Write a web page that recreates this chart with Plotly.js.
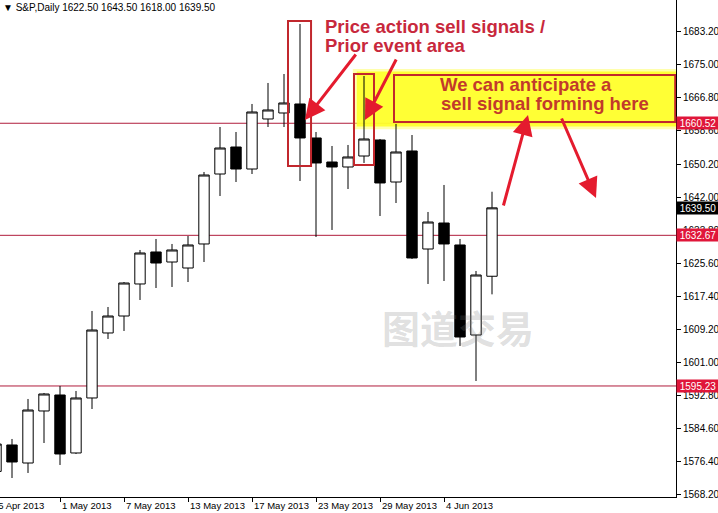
<!DOCTYPE html>
<html><head><meta charset="utf-8">
<script src="https://cdn.plot.ly/plotly-3.0.1.min.js"></script>
<style>html,body{margin:0;padding:0;background:#fff}#chart{width:718px;height:513px}</style>
</head><body><div id="chart"></div>
<script>
// ---- data ----
const dates = ['25 Apr 2013','26 Apr 2013','29 Apr 2013','30 Apr 2013','1 May 2013','2 May 2013','3 May 2013','6 May 2013','7 May 2013','8 May 2013','9 May 2013','10 May 2013','13 May 2013','14 May 2013','15 May 2013','16 May 2013','17 May 2013','20 May 2013','21 May 2013','22 May 2013','23 May 2013','24 May 2013','27 May 2013','28 May 2013','29 May 2013','30 May 2013','31 May 2013','3 Jun 2013','4 Jun 2013','5 Jun 2013','6 Jun 2013','7 Jun 2013'];
const openP  = [1574.00,1580.57,1576.09,1589.02,1592.99,1578.58,1592.25,1608.40,1612.62,1620.58,1628.53,1626.04,1624.55,1630.52,1647.91,1654.62,1649.15,1661.58,1663.07,1665.31,1656.86,1650.89,1649.65,1652.38,1656.36,1645.92,1653.63,1629.27,1635.73,1630.27,1607.90,1622.50];
const highP  = [1582.50,1582.06,1592.00,1593.49,1595.23,1593.99,1613.87,1614.86,1621.07,1629.03,1631.76,1630.52,1632.50,1648.41,1659.59,1658.35,1665.31,1670.53,1672.76,1685.19,1658.35,1654.87,1655.12,1672.27,1656.61,1660.34,1657.60,1638.47,1645.18,1631.76,1623.81,1643.50];
const lowP   = [1571.00,1572.36,1573.61,1581.06,1575.60,1578.33,1589.51,1606.91,1608.90,1616.60,1619.58,1619.83,1621.07,1626.04,1642.44,1645.92,1647.91,1659.59,1659.59,1646.17,1632.26,1634.00,1644.18,1650.65,1637.47,1640.70,1626.80,1620.58,1621.32,1605.17,1596.47,1618.00];
const closeP = [1580.80,1576.34,1589.26,1593.24,1578.33,1592.25,1609.14,1612.62,1620.82,1628.28,1625.79,1629.03,1630.27,1647.66,1654.37,1649.15,1663.32,1663.82,1665.56,1656.86,1650.65,1649.65,1652.14,1656.61,1645.68,1653.38,1627.04,1635.98,1630.52,1607.40,1622.81,1639.50];
const tickDates = ['1 May 2013','7 May 2013','13 May 2013','17 May 2013','23 May 2013','29 May 2013','4 Jun 2013'];
const firstTickDate = '25 Apr 2013';
const yTicks = [1568.20,1576.40,1584.60,1592.80,1601.00,1609.20,1617.40,1625.60,1633.80,1642.00,1650.20,1658.60,1666.80,1675.00,1683.20];
const levels = [1660.52,1632.67,1595.23];
const symbolName = 'S&P,Daily';
const watermark = '图道交易';
const note1 = ['Price action sell signals /','Prior event area'];
const note2 = ['We can anticipate a','sell signal forming here'];

// ---- layout helpers ----
const W = 718, H = 513, M = {l:0, r:42, t:0, b:16};
const PW = W - M.l - M.r, PH = H - M.t - M.b;
const px = v => v / PW;          // pixel -> paper x
const py = v => 1 - v / PH;      // pixel -> paper y
const FONT = 'Liberation Sans, Arial, sans-serif';
const last = closeP.length - 1;

const traces = [{
  type: 'candlestick', x: dates, open: openP, high: highP, low: lowP, close: closeP,
  increasing: {line: {color: '#000', width: 1}, fillcolor: '#ffffff'},
  decreasing: {line: {color: '#000', width: 1}, fillcolor: '#000000'},
  whiskerwidth: 0, hoverinfo: 'skip', showlegend: false
}];

const shapes = [
  // yellow highlight glow
  {type:'rect', xref:'x', yref:'y', x0:22.3, x1:42.6, y0:1659.0, y1:1674.0,
   fillcolor:'rgba(255,255,90,0.5)', line:{width:0}, layer:'below'},
  {type:'rect', xref:'x', yref:'y', x0:22.55, x1:42.6, y0:1659.7, y1:1673.4,
   fillcolor:'rgba(255,255,40,0.9)', line:{width:0}, layer:'below'}
];
levels.forEach(v => shapes.push({type:'line', xref:'paper', x0:0, x1:1, yref:'y', y0:v, y1:v,
  line:{color:'#b01c3c', width:1}, layer:'below'}));
shapes.push(
  {type:'rect', xref:'x', yref:'y', x0:24.875, x1:42.45, y0:1660.83, y1:1672.51, line:{color:'#c1272d', width:2}},
  {type:'rect', xref:'x', yref:'y', x0:18.25, x1:19.69, y0:1649.9, y1:1685.93, line:{color:'#c1272d', width:2}},
  {type:'rect', xref:'x', yref:'y', x0:22.375, x1:23.625, y0:1650.15, y1:1672.76, line:{color:'#c1272d', width:2}}
);

const tickFont = {family:FONT, size:9.5, color:'#000'};
const annotations = [
  {xref:'paper', yref:'paper', x:px(458), y:py(326), xanchor:'center', yanchor:'middle', text:watermark, showarrow:false,
   font:{family:'Noto Sans CJK SC', size:38, weight:'bold', color:'rgba(120,120,120,0.24)'}},
  {xref:'paper', yref:'paper', x:px(1), y:py(8), xanchor:'left', yanchor:'middle', showarrow:false,
   text:'▼ ' + symbolName + ' ' + [openP[last], highP[last], lowP[last], closeP[last]].map(v => v.toFixed(2)).join(' '),
   font:{family:FONT, size:10, color:'#000'}},
  {xref:'paper', yref:'paper', x:px(-9), y:0, xanchor:'left', yanchor:'top', yshift:-1, showarrow:false,
   text:firstTickDate, font:tickFont},
  {xref:'paper', yref:'paper', x:px(323), y:py(26), xanchor:'left', yanchor:'middle', showarrow:false,
   text:note1[0], font:{family:FONT, size:18.5, weight:'bold', color:'#c8283c'}},
  {xref:'paper', yref:'paper', x:px(323), y:py(46), xanchor:'left', yanchor:'middle', showarrow:false,
   text:note1[1], font:{family:FONT, size:18.5, weight:'bold', color:'#c8283c'}},
  {xref:'paper', yref:'paper', x:px(438), y:py(84), xanchor:'left', yanchor:'middle', showarrow:false,
   text:note2[0], font:{family:FONT, size:18.5, weight:'bold', color:'#c23a2b'}},
  {xref:'paper', yref:'paper', x:px(439), y:py(103), xanchor:'left', yanchor:'middle', showarrow:false,
   text:note2[1], font:{family:FONT, size:18.5, weight:'bold', color:'#c23a2b'}}
];
// x-axis labels drawn left-aligned at their tick (MetaTrader style)
tickDates.forEach(d => annotations.push({xref:'x', yref:'paper', x:dates.indexOf(d), y:0,
  xanchor:'left', yanchor:'top', yshift:-1, showarrow:false, text:d, font:tickFont}));

const arrowStyle = {xref:'x', yref:'y', axref:'x', ayref:'y', text:'', showarrow:true,
  arrowhead:2, arrowsize:1.35, arrowwidth:3, arrowcolor:'#e41b2e', standoff:0};
[[19.31,1661.33,22.56,1677.98],[23.06,1661.33,25.06,1676.74],
 [33.25,1662.57,31.69,1639.71],[37.5,1641.95,35.31,1662.08]].forEach(a =>
  annotations.push(Object.assign({}, arrowStyle, {x:a[0], y:a[1], ax:a[2], ay:a[3]})));
levels.forEach(v => annotations.push({xref:'paper', x:1, xanchor:'left', xshift:0, yref:'y', y:v,
  text:v.toFixed(2), showarrow:false, bgcolor:'#e0163a', borderpad:0, width:42, height:12,
  font:{family:FONT, size:10, color:'#fff'}}));
annotations.push({xref:'paper', x:1, xanchor:'left', xshift:0, yref:'y', y:closeP[last],
  text:closeP[last].toFixed(2), showarrow:false, bgcolor:'#000', borderpad:0, width:42, height:12,
  font:{family:FONT, size:10, color:'#fff'}});

const layout = {
  width: W, height: H, margin: M, paper_bgcolor:'#fff', plot_bgcolor:'#fff',
  showlegend:false, boxgap:0.35, boxgroupgap:0,
  xaxis: {type:'category', categoryorder:'array', categoryarray:dates, range:[0.25, 42.5],
    rangeslider:{visible:false}, showgrid:false, zeroline:false, showline:true, mirror:true,
    linecolor:'#000', linewidth:1, ticks:'outside', ticklen:4, tickcolor:'#000',
    tickvals:tickDates, showticklabels:false, fixedrange:true},
  yaxis: {side:'right', range:[1567.64, 1691.15], showgrid:false, zeroline:false,
    showline:true, linecolor:'#000', linewidth:1, ticks:'outside', ticklen:4, tickcolor:'#000',
    tickvals:yTicks, ticktext:yTicks.map(v => v.toFixed(2)),
    tickfont:{family:FONT, size:10, color:'#000'}, fixedrange:true},
  shapes: shapes, annotations: annotations
};
Plotly.newPlot('chart', traces, layout, {staticPlot:true, displayModeBar:false});
</script></body></html>
